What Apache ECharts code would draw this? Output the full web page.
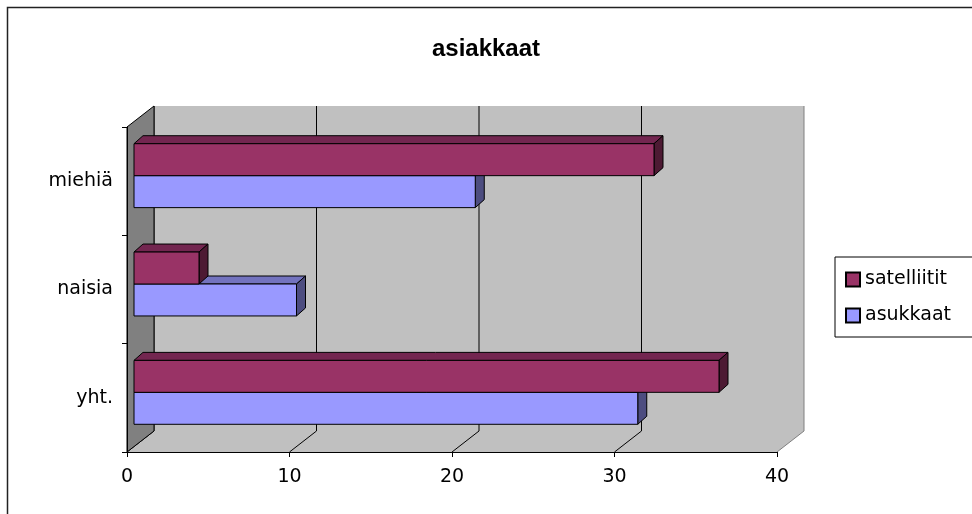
<!DOCTYPE html>
<html>
<head>
<meta charset="utf-8">
<title>asiakkaat</title>
<script src="https://cdn.jsdelivr.net/npm/echarts@6/dist/echarts.min.js"></script>
<style>
	html, body { margin: 0; padding: 0; background: #fff; }
	#chart { width: 972px; height: 514px; }
</style>
</head>
<body>
<div id="chart"></div>
<script>
// data
var categories = ['yht.', 'naisia', 'miehiä'];
var satelliitit = [36, 4, 32];
var asukkaat = [31, 10, 21];
var xMin = 0, xMax = 40, xStep = 10;

var FONT = 'Liberation Sans, Arial, sans-serif';
var WIDE = 'DejaVu Sans, sans-serif';
// depth of the 3d box (back wall offset) and of the bar plane / bar itself
var DX = 27, DY = -21;
var BX = 7, BY = -5.5;
var PX = 9, PY = -8;

function toRows(values) {
	return values.map(function (v, i) { return [v, i]; });
}

function extend(a, b) {
	for (var k in b) { a[k] = b[k]; }
	return a;
}

// walls, floor and grid lines of the 3d box
function renderWalls(params, api) {
	var cs = params.coordSys;
	var x = cs.x, y = cs.y, w = cs.width, h = cs.height;
	var children = [];
	// back wall
	children.push({ type: 'rect', shape: { x: x + DX, y: y + DY, width: w, height: h },
		style: { fill: '#c0c0c0', stroke: null } });
	// floor
	children.push({ type: 'polygon', shape: { points: [[x, y + h], [x + w, y + h], [x + w + DX, y + h + DY], [x + DX, y + h + DY]] },
		style: { fill: '#c0c0c0', stroke: null } });
	// grid lines on wall and floor
	for (var v = xMin; v <= xMax; v += xStep) {
		var gx = api.coord([v, 0])[0];
		var col = v === xMax ? '#808080' : '#000';
		children.push({ type: 'polyline', shape: { points: [[gx + DX, y + DY], [gx + DX, y + h + DY], [gx, y + h]] },
			style: { stroke: col, lineWidth: 1, fill: null } });
	}
	// left side wall
	children.push({ type: 'polygon', shape: { points: [[x, y], [x + DX, y + DY], [x + DX, y + h + DY], [x, y + h]] },
		style: { fill: '#808080', stroke: '#000', lineWidth: 1 } });
	return { type: 'group', children: children };
}

function makeBarRenderer(front, top, side, upper) {
	return function (params, api) {
		var v = api.value(0), c = api.value(1);
		var p0 = api.coord([0, c]);
		var p1 = api.coord([v, c]);
		var bh = api.size([0, 1])[1] * 0.295;
		var x = p0[0] + BX;
		var y = (upper ? p0[1] - bh : p0[1]) + BY;
		var w = p1[0] - p0[0];
		var st = { stroke: '#000', lineWidth: 1 };
		return { type: 'group', children: [
			{ type: 'polygon', shape: { points: [[x, y], [x + PX, y + PY], [x + w + PX, y + PY], [x + w, y]] },
				style: extend({ fill: top }, st) },
			{ type: 'polygon', shape: { points: [[x + w, y], [x + w + PX, y + PY], [x + w + PX, y + bh + PY], [x + w, y + bh]] },
				style: extend({ fill: side }, st) },
			{ type: 'rect', shape: { x: x, y: y, width: w, height: bh },
				style: extend({ fill: front }, st) }
		] };
	};
}

var option = {
	backgroundColor: '#fff',
	animation: false,
	title: {
		text: 'asiakkaat',
		left: 'center',
		top: 32,
		textStyle: { fontFamily: FONT, fontSize: 24, fontWeight: 'bold', color: '#000' }
	},
	legend: {
		orient: 'vertical',
		left: 835,
		top: 257,
		borderColor: '#000',
		borderWidth: 1,
		padding: [12, 30, 11, 10],
		itemWidth: 14,
		itemHeight: 14,
		itemGap: 15,
		icon: 'rect',
		textStyle: { fontFamily: WIDE, fontSize: 19, lineHeight: 21, color: '#000', padding: [0, 0, 0, 0] },
		data: ['satelliitit', 'asukkaat']
	},
	graphic: [{
		type: 'rect',
		shape: { x: 7.5, y: 7.5, width: 980, height: 520 },
		style: { fill: null, stroke: '#222', lineWidth: 1.5 },
		silent: true
	}],
	grid: { left: 127, right: 195, top: 127, bottom: 62 },
	xAxis: {
		type: 'value',
		min: xMin,
		max: xMax,
		interval: xStep,
		z: 5,
		axisLine: { show: true, lineStyle: { color: '#000' } },
		axisTick: { show: true, length: 5, lineStyle: { color: '#000' } },
		axisLabel: { fontFamily: WIDE, fontSize: 19, color: '#000', margin: 16 },
		splitLine: { show: false }
	},
	yAxis: {
		type: 'category',
		data: categories,
		z: 5,
		axisLine: { show: true, lineStyle: { color: '#000' } },
		axisTick: { show: true, length: 5, lineStyle: { color: '#000' } },
		axisLabel: { fontFamily: WIDE, fontSize: 19, color: '#000', margin: 14 }
	},
	series: [{
		type: 'custom',
		name: 'walls',
		z: 1,
		silent: true,
		renderItem: renderWalls,
		data: [[0, 0]],
		encode: { x: 0, y: 1 }
	}, {
		type: 'custom',
		name: 'asukkaat',
		z: 2,
		itemStyle: { color: '#9999ff', borderColor: '#000', borderWidth: 1 },
		renderItem: makeBarRenderer('#9999ff', '#7373bf', '#4d4d80', false),
		data: toRows(asukkaat),
		encode: { x: 0, y: 1 }
	}, {
		type: 'custom',
		name: 'satelliitit',
		z: 3,
		itemStyle: { color: '#993366', borderColor: '#000', borderWidth: 1 },
		renderItem: makeBarRenderer('#993366', '#732650', '#4d1a33', true),
		data: toRows(satelliitit),
		encode: { x: 0, y: 1 }
	}]
};

var chart = echarts.init(document.getElementById('chart'), null, { renderer: 'canvas' });
chart.setOption(option);
</script>
</body>
</html>
